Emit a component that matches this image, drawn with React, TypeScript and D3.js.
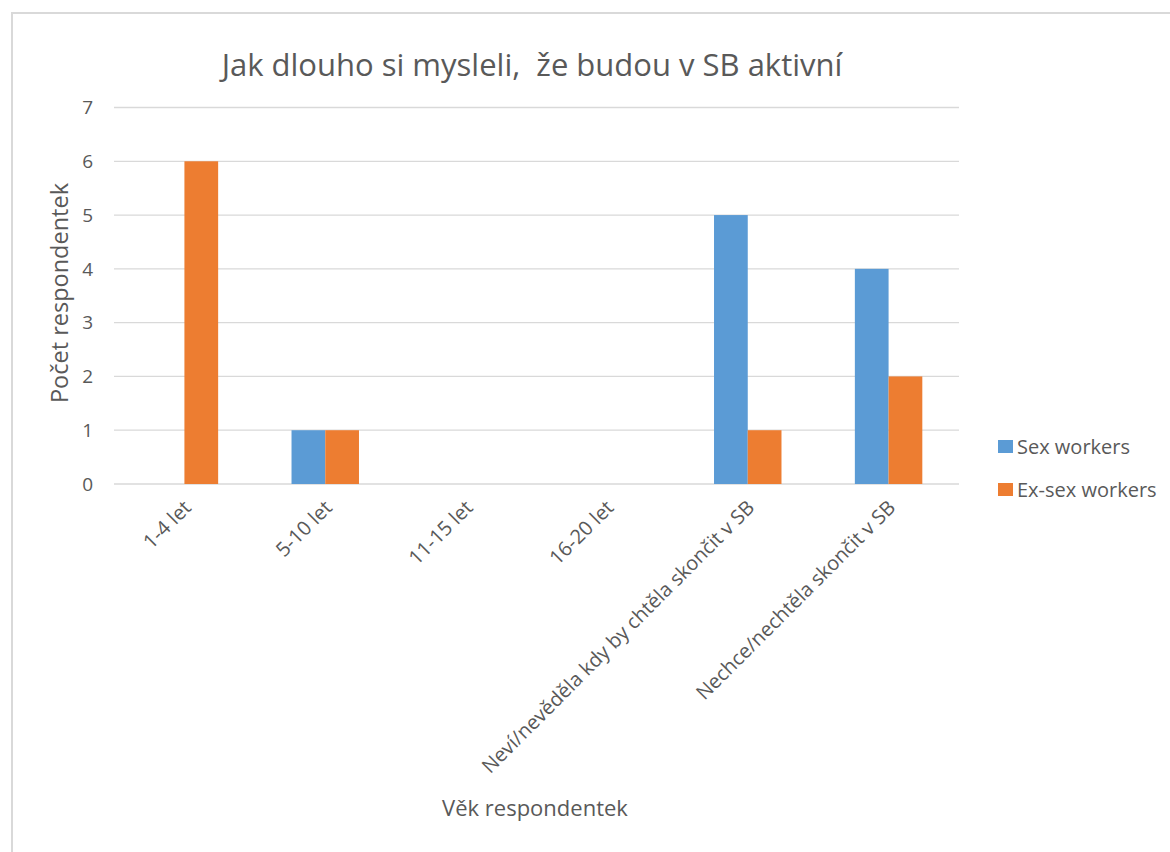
import React, { useRef, useEffect } from 'react';
import * as d3 from 'd3';

// chart data
const categories = [
  '1-4 let',
  '5-10 let',
  '11-15 let',
  '16-20 let',
  'Neví/nevěděla kdy by chtěla skončit v SB',
  'Nechce/nechtěla skončit v SB',
];
const seriesNames = ['Sex workers', 'Ex-sex workers'];
const sexWorkers = [0, 1, 0, 0, 5, 4];
const exSexWorkers = [6, 1, 0, 0, 1, 2];
const yTicks = [0, 1, 2, 3, 4, 5, 6, 7];

const colors = ['#5B9BD5', '#ED7D31'];
const textColor = '#595959';
const gridColor = '#D9D9D9';
const font = '"Open Sans", sans-serif';

const W = 1170;
const H = 852;

const App = () => {
  const svgRef = useRef<SVGSVGElement>(null);

  useEffect(() => {
    const svg = d3.select(svgRef.current);
    svg.selectAll('*').remove();

    const plot = { left: 114, right: 959, top: 107.5, bottom: 484 };

    // chart frame (cropped on right and bottom)
    svg.append('rect')
      .attr('x', 12).attr('y', 13)
      .attr('width', W).attr('height', H)
      .attr('fill', 'none')
      .attr('stroke', gridColor)
      .attr('stroke-width', 2);

    const x0 = d3.scaleBand<string>()
      .domain(categories)
      .range([plot.left, plot.right])
      .paddingInner(0.521)
      .paddingOuter(0.2605);

    const x1 = d3.scaleBand<string>()
      .domain(seriesNames)
      .range([0, x0.bandwidth()]);

    const y = d3.scaleLinear()
      .domain([0, 7])
      .range([plot.bottom, plot.top]);

    // gridlines
    yTicks.forEach(t => {
      svg.append('line')
        .attr('x1', plot.left).attr('x2', plot.right)
        .attr('y1', y(t)).attr('y2', y(t))
        .attr('stroke', gridColor)
        .attr('stroke-width', 1.3);
    });

    // y labels
    yTicks.forEach(t => {
      svg.append('text')
        .attr('x', 93)
        .attr('y', y(t))
        .attr('dy', '0.36em')
        .attr('text-anchor', 'end')
        .attr('fill', textColor)
        .attr('font-family', font)
        .attr('font-size', '19px')
        .text(t);
    });

    // bars
    const series = [sexWorkers, exSexWorkers];
    categories.forEach((c, i) => {
      series.forEach((vals, s) => {
        const v = vals[i];
        if (!v) return;
        svg.append('rect')
          .attr('x', (x0(c) ?? 0) + (x1(seriesNames[s]) ?? 0))
          .attr('y', y(v))
          .attr('width', x1.bandwidth())
          .attr('height', y(0) - y(v))
          .attr('fill', colors[s]);
      });
    });

    // x labels, rotated
    categories.forEach(c => {
      const cx = (x0(c) ?? 0) + x0.bandwidth() / 2;
      svg.append('text')
        .attr('transform', `translate(${cx + 3}, ${plot.bottom + 20}) rotate(-45)`)
        .attr('dy', '0.35em')
        .attr('text-anchor', 'end')
        .attr('fill', textColor)
        .attr('font-family', font)
        .attr('font-size', '20px')
        .text(c);
    });

    // title
    svg.append('text')
      .attr('x', 532)
      .attr('y', 76)
      .attr('text-anchor', 'middle')
      .attr('fill', textColor)
      .attr('font-family', font)
      .attr('font-size', '31px')
      .style('white-space', 'pre')
      .text('Jak dlouho si mysleli,  že budou v SB aktivní');

    // axis titles
    svg.append('text')
      .attr('transform', `translate(68, 293) rotate(-90)`)
      .attr('text-anchor', 'middle')
      .attr('fill', textColor)
      .attr('font-family', font)
      .attr('font-size', '23.5px')
      .text('Počet respondentek');

    svg.append('text')
      .attr('x', 535)
      .attr('y', 816)
      .attr('text-anchor', 'middle')
      .attr('fill', textColor)
      .attr('font-family', font)
      .attr('font-size', '22px')
      .text('Věk respondentek');

    // legend
    seriesNames.forEach((name, i) => {
      const ly = 446.5 + i * 43;
      svg.append('rect')
        .attr('x', 998).attr('y', ly - 6.5)
        .attr('width', 15).attr('height', 13)
        .attr('fill', colors[i]);
      svg.append('text')
        .attr('x', 1017)
        .attr('y', ly)
        .attr('dy', '0.36em')
        .attr('fill', textColor)
        .attr('font-family', font)
        .attr('font-size', '20px')
        .text(name);
    });
  }, []);

  return (
    <div style={{ position: 'absolute', left: 0, top: 0, width: W, height: H, background: '#fff' }}>
      <svg ref={svgRef} width={W} height={H} />
    </div>
  );
};

export default App;
